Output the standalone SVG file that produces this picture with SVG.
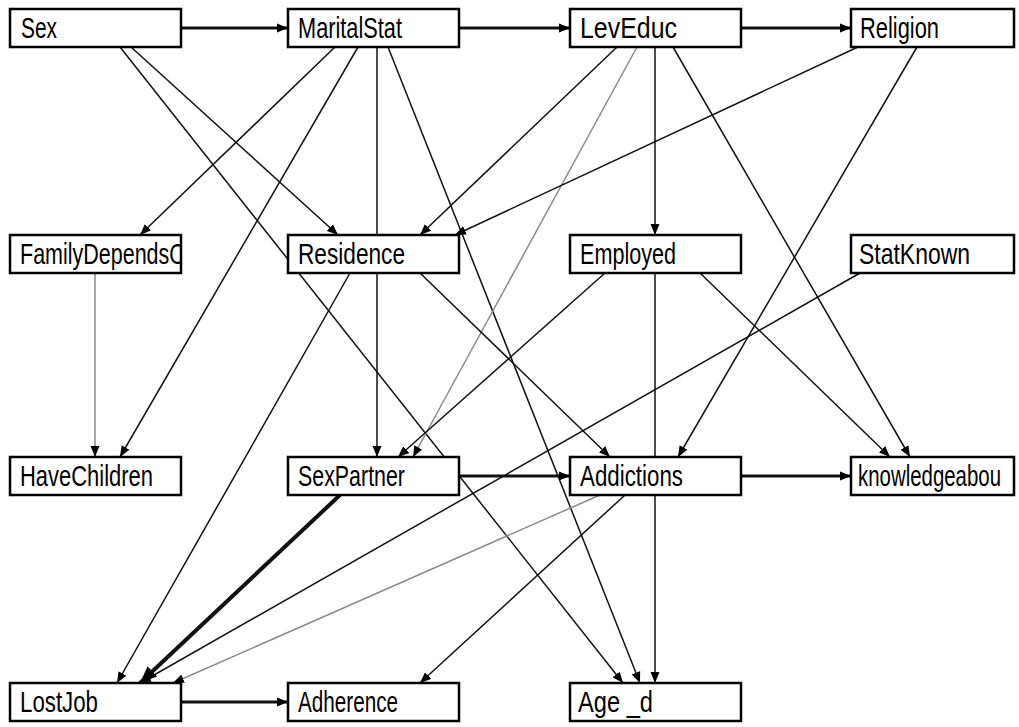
<svg xmlns="http://www.w3.org/2000/svg" width="1019" height="727" viewBox="0 0 1019 727">
  <style>
    .box { fill: #ffffff; stroke: #000000; stroke-width: 2.5; }
    .lbl { font-family: "Liberation Sans", Arial, sans-serif; font-size: 29px; fill: #000000; }
    .edge { fill: none; stroke: #111111; stroke-width: 1.5; marker-end: url(#head); }
    .grey { stroke: #8a8a8a; }
    .hz { stroke-width: 3; }
    .heavy { stroke-width: 4; marker-end: url(#bighead); }
  </style>
  <defs>
    <marker id="head" markerUnits="userSpaceOnUse" markerWidth="12" markerHeight="10" viewBox="0 0 12 10" refX="11" refY="5" orient="auto">
      <path d="M0,0.5 L11,5 L0,9.5 Z" fill="#000000"/>
    </marker>
    <marker id="bighead" markerUnits="userSpaceOnUse" markerWidth="18" markerHeight="14" viewBox="0 0 18 14" refX="17" refY="7" orient="auto">
      <path d="M0,0 L17,7 L0,14 Z" fill="#000000"/>
    </marker>
    <clipPath id="clipFam"><rect x="10" y="235" width="170" height="38"/></clipPath>
  </defs>

  <!-- connectors, drawn below the nodes -->
  <g id="connectors">
    <line class="edge hz" x1="181" y1="28" x2="288" y2="28"/>
    <line class="edge hz" x1="459" y1="28" x2="570" y2="28"/>
    <line class="edge hz" x1="741" y1="28" x2="851" y2="28"/>
    <line class="edge" x1="131" y1="47" x2="338" y2="235"/>
    <line class="edge" x1="120" y1="47" x2="623" y2="683"/>
    <line class="edge" x1="335" y1="47" x2="140" y2="235"/>
    <line class="edge" x1="358" y1="47" x2="120" y2="457"/>
    <line class="edge" x1="377" y1="47" x2="377" y2="457"/>
    <line class="edge" x1="388" y1="47" x2="640" y2="683"/>
    <line class="edge" x1="617" y1="47" x2="420" y2="235"/>
    <line class="edge grey" x1="637" y1="47" x2="413" y2="457"/>
    <line class="edge" x1="655" y1="47" x2="655" y2="235"/>
    <line class="edge" x1="673" y1="47" x2="910" y2="457"/>
    <line class="edge" x1="858" y1="47" x2="455" y2="235"/>
    <line class="edge" x1="917" y1="47" x2="678" y2="457"/>
    <line class="edge grey" x1="95" y1="273" x2="95" y2="457"/>
    <line class="edge" x1="350" y1="273" x2="117" y2="683"/>
    <line class="edge" x1="420" y1="273" x2="610" y2="457"/>
    <line class="edge" x1="605" y1="273" x2="398" y2="457"/>
    <line class="edge" x1="700" y1="273" x2="890" y2="457"/>
    <line class="edge" x1="655" y1="273" x2="655" y2="683"/>
    <line class="edge" x1="860" y1="273" x2="140" y2="683"/>
    <line class="edge heavy" x1="340" y1="495" x2="140" y2="683"/>
    <line class="edge hz" x1="459" y1="476" x2="570" y2="476"/>
    <line class="edge hz" x1="741" y1="476" x2="851" y2="476"/>
    <line class="edge grey" x1="600" y1="495" x2="173" y2="683"/>
    <line class="edge" x1="625" y1="495" x2="420" y2="683"/>
    <line class="edge hz" x1="180" y1="702" x2="288" y2="702"/>
  </g>

  <!-- row 1 -->
  <g id="Sex">
    <rect class="box" x="10" y="9" width="171" height="38"/>
    <text class="lbl" x="21" y="38" textLength="36" lengthAdjust="spacingAndGlyphs">Sex</text>
  </g>
  <g id="MaritalStat">
    <rect class="box" x="288" y="9" width="171" height="38"/>
    <text class="lbl" x="298" y="38" textLength="104" lengthAdjust="spacingAndGlyphs">MaritalStat</text>
  </g>
  <g id="LevEduc">
    <rect class="box" x="570" y="9" width="171" height="38"/>
    <text class="lbl" x="580" y="38" textLength="97" lengthAdjust="spacingAndGlyphs">LevEduc</text>
  </g>
  <g id="Religion">
    <rect class="box" x="851" y="9" width="163" height="38"/>
    <text class="lbl" x="860" y="38" textLength="79" lengthAdjust="spacingAndGlyphs">Religion</text>
  </g>

  <!-- row 2 -->
  <g id="FamilyDependsO">
    <rect class="box" x="10" y="235" width="171" height="38"/>
    <text class="lbl" x="20" y="264" textLength="166" lengthAdjust="spacingAndGlyphs" clip-path="url(#clipFam)">FamilyDependsO</text>
  </g>
  <g id="Residence">
    <rect class="box" x="288" y="235" width="171" height="38"/>
    <text class="lbl" x="298" y="264" textLength="107" lengthAdjust="spacingAndGlyphs">Residence</text>
  </g>
  <g id="Employed">
    <rect class="box" x="570" y="235" width="171" height="38"/>
    <text class="lbl" x="580" y="264" textLength="96" lengthAdjust="spacingAndGlyphs">Employed</text>
  </g>
  <g id="StatKnown">
    <rect class="box" x="851" y="235" width="163" height="38"/>
    <text class="lbl" x="859" y="264" textLength="111" lengthAdjust="spacingAndGlyphs">StatKnown</text>
  </g>

  <!-- row 3 -->
  <g id="HaveChildren">
    <rect class="box" x="10" y="457" width="171" height="38"/>
    <text class="lbl" x="20" y="486" textLength="133" lengthAdjust="spacingAndGlyphs">HaveChildren</text>
  </g>
  <g id="SexPartner">
    <rect class="box" x="288" y="457" width="171" height="38"/>
    <text class="lbl" x="298" y="486" textLength="107" lengthAdjust="spacingAndGlyphs">SexPartner</text>
  </g>
  <g id="Addictions">
    <rect class="box" x="570" y="457" width="171" height="38"/>
    <text class="lbl" x="580" y="486" textLength="103" lengthAdjust="spacingAndGlyphs">Addictions</text>
  </g>
  <g id="knowledgeabou">
    <rect class="box" x="851" y="457" width="163" height="38"/>
    <!-- smaller face, stretched upright to keep the same letter height as the other labels -->
    <text class="lbl" transform="translate(858,486) scale(1,1.3)" x="0" y="0" style="font-size:22px" textLength="143" lengthAdjust="spacingAndGlyphs">knowledgeabou</text>
  </g>

  <!-- row 4 -->
  <g id="LostJob">
    <rect class="box" x="10" y="683" width="171" height="38"/>
    <text class="lbl" x="20" y="712" textLength="78" lengthAdjust="spacingAndGlyphs">LostJob</text>
  </g>
  <g id="Adherence">
    <rect class="box" x="288" y="683" width="171" height="38"/>
    <text class="lbl" x="298" y="712" textLength="100" lengthAdjust="spacingAndGlyphs">Adherence</text>
  </g>
  <g id="Age_d">
    <rect class="box" x="570" y="683" width="171" height="38"/>
    <text class="lbl" x="578" y="712" textLength="75" lengthAdjust="spacingAndGlyphs">Age _d</text>
  </g>
</svg>
